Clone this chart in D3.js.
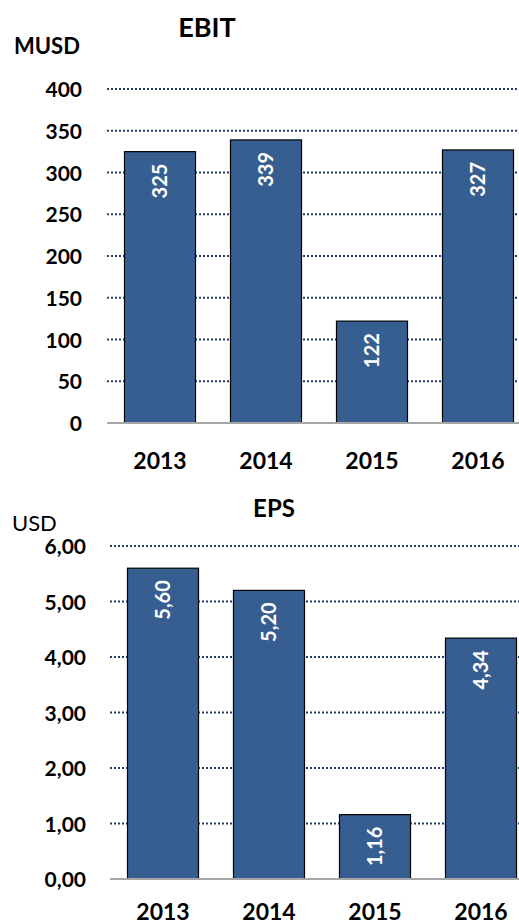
<!DOCTYPE html>
<html>
<head>
<meta charset="utf-8">
<script src="https://cdn.jsdelivr.net/npm/d3@7"></script>
<style>
  body { margin: 0; background: #fff; }
  svg { display: block; font-family: Lato, "Open Sans", sans-serif; }
</style>
</head>
<body>
<svg id="chart" width="519" height="924"></svg>
<script>
const years = ['2013', '2014', '2015', '2016'];
const ebit = [325, 339, 122, 327];
const eps = [5.60, 5.20, 1.16, 4.34];
const ebitTicks = [0, 50, 100, 150, 200, 250, 300, 350, 400];
const epsTicks = [0, 1, 2, 3, 4, 5, 6];

const barColor = '#365e91';
const gridColor = '#1f3a6b';

const locale = d3.formatLocale({ decimal: ',', thousands: '.', grouping: [3], currency: ['', ''] });
const fmt2 = locale.format('.2f');

const svg = d3.select('#chart');

// one panel = title, unit, grid, bars, labels
const drawPanel = opts => {
  const x = d3.scaleBand()
    .domain(years)
    .range([opts.left, opts.left + 424])
    .paddingInner(0.33)
    .paddingOuter(0.165);
  const y = d3.scaleLinear()
    .domain([0, opts.max])
    .range([opts.bottom, opts.top]);

  const g = svg.append('g');

  g.append('text')
    .attr('x', opts.titleX)
    .attr('y', opts.titleY)
    .attr('text-anchor', 'middle')
    .style('font-size', opts.titleSize + 'px')
    .style('font-weight', 'bold')
    .text(opts.title);

  g.append('text')
    .attr('x', opts.unitX)
    .attr('y', opts.unitY)
    .style('font-size', '22px')
    .style('font-weight', opts.unitWeight)
    .text(opts.unit);

  // dotted gridlines
  g.selectAll('.grid')
    .data(opts.ticks.filter(d => d > 0))
    .enter()
    .append('line')
    .attr('x1', opts.left)
    .attr('x2', 519)
    .attr('y1', d => y(d))
    .attr('y2', d => y(d))
    .attr('stroke', gridColor)
    .attr('stroke-width', 2)
    .attr('stroke-dasharray', '2,2');

  const axis = d3.axisLeft(y)
    .tickValues(opts.ticks)
    .tickFormat(opts.format)
    .tickSize(0)
    .tickPadding(opts.pad);
  const ag = g.append('g')
    .attr('transform', `translate(${opts.left},0)`)
    .call(axis);
  ag.select('.domain').remove();
  ag.selectAll('text')
    .style('font-size', '21px')
    .style('font-weight', 'bold')
    .style('font-family', 'Lato, "Open Sans", sans-serif')
    .attr('fill', '#000')
    .attr('dy', '0.36em');

  g.selectAll('.bar')
    .data(opts.values)
    .enter()
    .append('rect')
    .attr('x', (d, i) => x(years[i]))
    .attr('y', d => y(d))
    .attr('width', x.bandwidth())
    .attr('height', d => opts.bottom - y(d))
    .attr('fill', barColor)
    .attr('stroke', '#000')
    .attr('stroke-width', 1.2);

  g.append('line')
    .attr('x1', opts.left)
    .attr('x2', 519)
    .attr('y1', opts.bottom)
    .attr('y2', opts.bottom)
    .attr('stroke', '#a6a6a6')
    .attr('stroke-width', 2);

  g.selectAll('.val')
    .data(opts.values)
    .enter()
    .append('text')
    .attr('transform', (d, i) => `translate(${x(years[i]) + x.bandwidth() / 2 + 7},${y(d) + 12}) rotate(-90)`)
    .attr('text-anchor', 'end')
    .attr('fill', '#fff')
    .style('font-size', '20px')
    .style('font-weight', 'bold')
    .text(d => opts.format(d));

  g.selectAll('.year')
    .data(years)
    .enter()
    .append('text')
    .attr('x', d => x(d) + x.bandwidth() / 2)
    .attr('y', opts.yearY)
    .attr('text-anchor', 'middle')
    .style('font-size', '23px')
    .style('font-weight', 'bold')
    .text(d => d);
};

drawPanel({
  values: ebit, ticks: ebitTicks, max: 400, format: d3.format('d'),
  left: 107, top: 89, bottom: 423, pad: 25,
  title: 'EBIT', titleX: 207, titleY: 37, titleSize: 27,
  unit: 'MUSD', unitX: 14, unitY: 54, unitWeight: 'bold',
  yearY: 469
});

drawPanel({
  values: eps, ticks: epsTicks, max: 6, format: fmt2,
  left: 110, top: 546, bottom: 879, pad: 24,
  title: 'EPS', titleX: 274, titleY: 517, titleSize: 24,
  unit: 'USD', unitX: 12, unitY: 531, unitWeight: 'normal',
  yearY: 920
});
</script>
</body>
</html>
